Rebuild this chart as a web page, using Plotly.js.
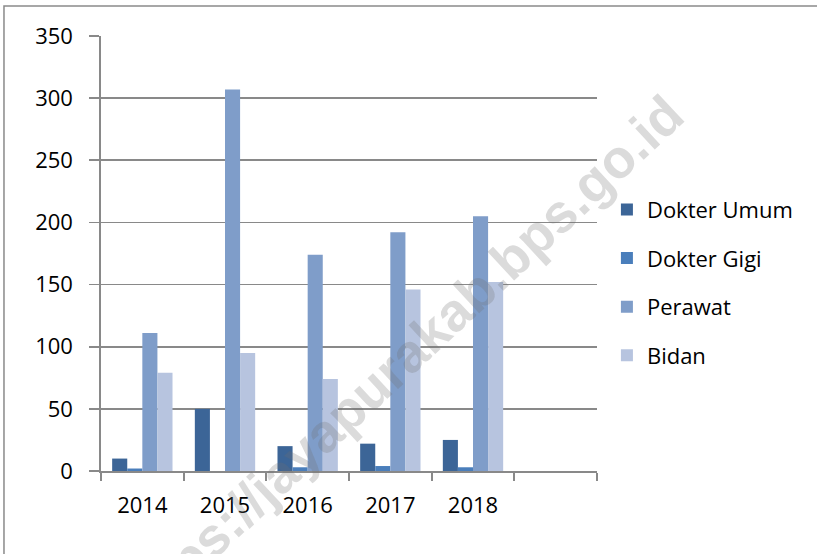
<!DOCTYPE html>
<html>
<head>
<meta charset="utf-8">
<script src="https://cdn.plot.ly/plotly-3.0.1.min.js"></script>
<style>html,body{margin:0;padding:0;background:#fff;}#chart{width:817px;height:554px;}</style>
</head>
<body>
<div id="chart"></div>
<script>
var categories = ['2014', '2015', '2016', '2017', '2018', ' '];
var dokterUmum = [10, 50, 20, 22, 25, null];
var dokterGigi = [2, 0, 3, 4, 3, null];
var perawat = [111, 307, 174, 192, 205, null];
var bidan = [79, 95, 74, 146, 152, null];
var seriesNames = ['Dokter Umum', 'Dokter Gigi', 'Perawat', 'Bidan'];
var yTicks = [0, 50, 100, 150, 200, 250, 300, 350];

var colors = ['#3C6597', '#4A7EBB', '#7F9DC9', '#B7C4DF'];
var seriesValues = [dokterUmum, dokterGigi, perawat, bidan];
var font = 'Open Sans, sans-serif';

var traces = seriesValues.map(function (vals, i) {
  return {
    type: 'bar',
    x: categories,
    y: vals,
    name: seriesNames[i],
    legendgroup: 'g' + i,
    marker: {color: colors[i], line: {width: 0}},
    hoverinfo: 'x+y+name'
  };
});

var gridColor = '#898989';
var layout = {
  width: 817,
  height: 554,
  margin: {l: 101, r: 220, t: 36, b: 83},
  paper_bgcolor: '#ffffff',
  plot_bgcolor: '#ffffff',
  barmode: 'group',
  bargap: 0.27,
  bargroupgap: 0,
  font: {family: font, size: 22, color: '#000000'},
  showlegend: true,
  legend: {
    x: 1.02, xanchor: 'left', y: 0.433, yanchor: 'middle',
    font: {family: font, size: 22, color: '#000000'},
    tracegroupgap: 17,
    itemwidth: 30,
    bgcolor: 'rgba(0,0,0,0)'
  },
  xaxis: {
    type: 'category',
    categoryorder: 'array',
    categoryarray: categories,
    range: [-0.5, 5.5],
    tickson: 'boundaries',
    ticks: 'outside',
    ticklen: 8,
    tickwidth: 1.7,
    tickcolor: gridColor,
    showline: true,
    linecolor: gridColor,
    linewidth: 1.7,
    showgrid: false,
    zeroline: false,
    ticklabelstandoff: 14,
    tickfont: {family: font, size: 22, color: '#000000'},
    fixedrange: true
  },
  yaxis: {
    range: [0, 350],
    tickvals: yTicks,
    ticktext: yTicks.map(String),
    ticks: 'outside',
    ticklen: 10,
    tickwidth: 1.7,
    tickcolor: gridColor,
    showline: true,
    linecolor: gridColor,
    linewidth: 1.7,
    showgrid: true,
    gridcolor: gridColor,
    gridwidth: 1.7,
    zeroline: false,
    ticklabelstandoff: 12,
    tickfont: {family: font, size: 22, color: '#000000'},
    fixedrange: true
  },
  shapes: [{
    type: 'rect', xref: 'paper', yref: 'paper',
    x0: -0.1956, x1: 1.46, y0: -0.2, y1: 1.069,
    line: {color: '#8A8A8A', width: 1.5},
    fillcolor: 'rgba(0,0,0,0)',
    layer: 'below'
  }],
  annotations: [{
    text: '<b>https://jayapurakab.bps.go.id</b>',
    xref: 'paper', yref: 'paper',
    x: 0.603, y: 0.252,
    xanchor: 'center', yanchor: 'middle',
    showarrow: false,
    textangle: -43,
    font: {family: 'Liberation Sans, Arial, sans-serif', size: 54, color: 'rgba(110,110,110,0.25)'}
  }]
};

Plotly.newPlot('chart', traces, layout, {displayModeBar: false, staticPlot: true});
</script>
</body>
</html>
